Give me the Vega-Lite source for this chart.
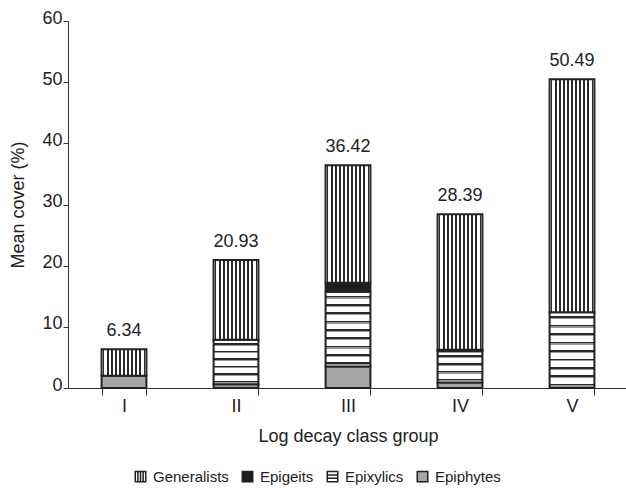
{
  "$schema": "https://vega.github.io/schema/vega-lite/v6.json",
  "autosize": "none",
  "padding": {"left": 68, "top": 21, "right": 0, "bottom": 102},
  "width": 560,
  "height": 367,
  "background": "white",
  "config": {
    "view": {"stroke": null},
    "font": "Liberation Sans",
    "axis": {"labelFont": "Liberation Sans", "titleFont": "Liberation Sans", "labelFontSize": 18, "titleFontSize": 18, "titleFontWeight": "normal", "labelColor": "#222", "titleColor": "#222", "domainColor": "#333", "tickColor": "#333", "grid": false},
    "legend": {"labelFont": "Liberation Sans", "labelFontSize": 15, "labelColor": "#222"}
  },
  "data": {"values": [
    {"group": "I", "series": "Epiphytes", "value": 2.0},
    {"group": "I", "series": "Generalists", "value": 4.34},
    {"group": "II", "series": "Epiphytes", "value": 0.6},
    {"group": "II", "series": "Epixylics", "value": 7.3},
    {"group": "II", "series": "Generalists", "value": 13.03},
    {"group": "III", "series": "Epiphytes", "value": 3.5},
    {"group": "III", "series": "Epixylics", "value": 12.25},
    {"group": "III", "series": "Epigeits", "value": 1.45},
    {"group": "III", "series": "Generalists", "value": 19.22},
    {"group": "IV", "series": "Epiphytes", "value": 0.9},
    {"group": "IV", "series": "Epixylics", "value": 5.1},
    {"group": "IV", "series": "Epigeits", "value": 0.25},
    {"group": "IV", "series": "Generalists", "value": 22.14},
    {"group": "V", "series": "Epixylics", "value": 12.4},
    {"group": "V", "series": "Generalists", "value": 38.09}
  ]},
  "transform": [
    {"calculate": "indexof(['Epiphytes','Epixylics','Epigeits','Generalists'], datum.series)", "as": "ord"}
  ],
  "encoding": {
    "x": {"field": "group", "type": "nominal", "sort": ["I", "II", "III", "IV", "V"],
      "scale": {"paddingInner": 0.6, "paddingOuter": 0.3},
      "axis": {"title": "Log decay class group", "labelAngle": 0, "tickBand": "extent", "tickSize": 7, "labelPadding": 2, "titlePadding": 12}}
  },
  "layer": [
    {
      "mark": {"type": "bar", "stroke": "#222", "strokeWidth": 2},
      "encoding": {
        "y": {"aggregate": "sum", "field": "value", "type": "quantitative", "stack": "zero",
          "scale": {"domain": [0, 60], "nice": false},
          "axis": {"title": "Mean cover (%)", "values": [0, 10, 20, 30, 40, 50, 60], "tickSize": 5, "labelPadding": 1, "labelOffset": -3, "titlePadding": 14}},
        "detail": {"field": "series"},
        "order": {"field": "ord"},
        "fill": {
          "condition": [
            {"test": "datum.series === 'Generalists'", "value": {"gradient": "linear", "x1": 0, "x2": 1, "y1": 0, "y2": 0, "stops": [
              {"offset": 0, "color": "#ffffff"}, {"offset": 0.0273, "color": "#ffffff"}, {"offset": 0.0273, "color": "#2a2a2a"}, {"offset": 0.0636, "color": "#2a2a2a"}, {"offset": 0.0636, "color": "#ffffff"},
              {"offset": 0.1182, "color": "#ffffff"}, {"offset": 0.1182, "color": "#2a2a2a"}, {"offset": 0.1545, "color": "#2a2a2a"}, {"offset": 0.1545, "color": "#ffffff"},
              {"offset": 0.2091, "color": "#ffffff"}, {"offset": 0.2091, "color": "#2a2a2a"}, {"offset": 0.2455, "color": "#2a2a2a"}, {"offset": 0.2455, "color": "#ffffff"},
              {"offset": 0.3, "color": "#ffffff"}, {"offset": 0.3, "color": "#2a2a2a"}, {"offset": 0.3364, "color": "#2a2a2a"}, {"offset": 0.3364, "color": "#ffffff"},
              {"offset": 0.3909, "color": "#ffffff"}, {"offset": 0.3909, "color": "#2a2a2a"}, {"offset": 0.4273, "color": "#2a2a2a"}, {"offset": 0.4273, "color": "#ffffff"},
              {"offset": 0.4818, "color": "#ffffff"}, {"offset": 0.4818, "color": "#2a2a2a"}, {"offset": 0.5182, "color": "#2a2a2a"}, {"offset": 0.5182, "color": "#ffffff"},
              {"offset": 0.5727, "color": "#ffffff"}, {"offset": 0.5727, "color": "#2a2a2a"}, {"offset": 0.6091, "color": "#2a2a2a"}, {"offset": 0.6091, "color": "#ffffff"},
              {"offset": 0.6636, "color": "#ffffff"}, {"offset": 0.6636, "color": "#2a2a2a"}, {"offset": 0.7, "color": "#2a2a2a"}, {"offset": 0.7, "color": "#ffffff"},
              {"offset": 0.7545, "color": "#ffffff"}, {"offset": 0.7545, "color": "#2a2a2a"}, {"offset": 0.7909, "color": "#2a2a2a"}, {"offset": 0.7909, "color": "#ffffff"},
              {"offset": 0.8455, "color": "#ffffff"}, {"offset": 0.8455, "color": "#2a2a2a"}, {"offset": 0.8818, "color": "#2a2a2a"}, {"offset": 0.8818, "color": "#ffffff"},
              {"offset": 0.9364, "color": "#ffffff"}, {"offset": 0.9364, "color": "#2a2a2a"}, {"offset": 0.9727, "color": "#2a2a2a"}, {"offset": 0.9727, "color": "#ffffff"},
              {"offset": 1, "color": "#ffffff"}]}},
            {"test": "datum.series === 'Epigeits'", "value": "#1e1e1e"},
            {"test": "datum.series === 'Epixylics' && datum.group === 'IV'", "value": {"gradient": "linear", "x1": 0, "x2": 0, "y1": 0, "y2": 1, "stops": [
              {"offset": 0, "color": "#ffffff"},
              {"offset": 0.125, "color": "#ffffff"}, {"offset": 0.125, "color": "#2a2a2a"}, {"offset": 0.175, "color": "#2a2a2a"}, {"offset": 0.175, "color": "#999999"}, {"offset": 0.2125, "color": "#999999"}, {"offset": 0.2125, "color": "#ffffff"},
              {"offset": 0.375, "color": "#ffffff"}, {"offset": 0.375, "color": "#2a2a2a"}, {"offset": 0.425, "color": "#2a2a2a"}, {"offset": 0.425, "color": "#999999"}, {"offset": 0.4625, "color": "#999999"}, {"offset": 0.4625, "color": "#ffffff"},
              {"offset": 0.625, "color": "#ffffff"}, {"offset": 0.625, "color": "#2a2a2a"}, {"offset": 0.675, "color": "#2a2a2a"}, {"offset": 0.675, "color": "#999999"}, {"offset": 0.7125, "color": "#999999"}, {"offset": 0.7125, "color": "#ffffff"},
              {"offset": 0.875, "color": "#ffffff"}, {"offset": 0.875, "color": "#2a2a2a"}, {"offset": 0.925, "color": "#2a2a2a"}, {"offset": 0.925, "color": "#999999"}, {"offset": 0.9625, "color": "#999999"}, {"offset": 0.9625, "color": "#ffffff"},
              {"offset": 1, "color": "#ffffff"}]}},
            {"test": "datum.series === 'Epixylics' && datum.group === 'II'", "value": {"gradient": "linear", "x1": 0, "x2": 0, "y1": 0, "y2": 1, "stops": [
              {"offset": 0, "color": "#ffffff"},
              {"offset": 0.0833, "color": "#ffffff"}, {"offset": 0.0833, "color": "#2a2a2a"}, {"offset": 0.1167, "color": "#2a2a2a"}, {"offset": 0.1167, "color": "#999999"}, {"offset": 0.1417, "color": "#999999"}, {"offset": 0.1417, "color": "#ffffff"},
              {"offset": 0.25, "color": "#ffffff"}, {"offset": 0.25, "color": "#2a2a2a"}, {"offset": 0.2833, "color": "#2a2a2a"}, {"offset": 0.2833, "color": "#999999"}, {"offset": 0.3083, "color": "#999999"}, {"offset": 0.3083, "color": "#ffffff"},
              {"offset": 0.4167, "color": "#ffffff"}, {"offset": 0.4167, "color": "#2a2a2a"}, {"offset": 0.45, "color": "#2a2a2a"}, {"offset": 0.45, "color": "#999999"}, {"offset": 0.475, "color": "#999999"}, {"offset": 0.475, "color": "#ffffff"},
              {"offset": 0.5833, "color": "#ffffff"}, {"offset": 0.5833, "color": "#2a2a2a"}, {"offset": 0.6167, "color": "#2a2a2a"}, {"offset": 0.6167, "color": "#999999"}, {"offset": 0.6417, "color": "#999999"}, {"offset": 0.6417, "color": "#ffffff"},
              {"offset": 0.75, "color": "#ffffff"}, {"offset": 0.75, "color": "#2a2a2a"}, {"offset": 0.7833, "color": "#2a2a2a"}, {"offset": 0.7833, "color": "#999999"}, {"offset": 0.8083, "color": "#999999"}, {"offset": 0.8083, "color": "#ffffff"},
              {"offset": 0.9167, "color": "#ffffff"}, {"offset": 0.9167, "color": "#2a2a2a"}, {"offset": 0.95, "color": "#2a2a2a"}, {"offset": 0.95, "color": "#999999"}, {"offset": 0.975, "color": "#999999"}, {"offset": 0.975, "color": "#ffffff"},
              {"offset": 1, "color": "#ffffff"}]}},
            {"test": "datum.series === 'Epixylics'", "value": {"gradient": "linear", "x1": 0, "x2": 0, "y1": 0, "y2": 1, "stops": [
              {"offset": 0, "color": "#ffffff"},
              {"offset": 0.0556, "color": "#ffffff"}, {"offset": 0.0556, "color": "#2a2a2a"}, {"offset": 0.0778, "color": "#2a2a2a"}, {"offset": 0.0778, "color": "#999999"}, {"offset": 0.0944, "color": "#999999"}, {"offset": 0.0944, "color": "#ffffff"},
              {"offset": 0.1667, "color": "#ffffff"}, {"offset": 0.1667, "color": "#2a2a2a"}, {"offset": 0.1889, "color": "#2a2a2a"}, {"offset": 0.1889, "color": "#999999"}, {"offset": 0.2056, "color": "#999999"}, {"offset": 0.2056, "color": "#ffffff"},
              {"offset": 0.2778, "color": "#ffffff"}, {"offset": 0.2778, "color": "#2a2a2a"}, {"offset": 0.3, "color": "#2a2a2a"}, {"offset": 0.3, "color": "#999999"}, {"offset": 0.3167, "color": "#999999"}, {"offset": 0.3167, "color": "#ffffff"},
              {"offset": 0.3889, "color": "#ffffff"}, {"offset": 0.3889, "color": "#2a2a2a"}, {"offset": 0.4111, "color": "#2a2a2a"}, {"offset": 0.4111, "color": "#999999"}, {"offset": 0.4278, "color": "#999999"}, {"offset": 0.4278, "color": "#ffffff"},
              {"offset": 0.5, "color": "#ffffff"}, {"offset": 0.5, "color": "#2a2a2a"}, {"offset": 0.5222, "color": "#2a2a2a"}, {"offset": 0.5222, "color": "#999999"}, {"offset": 0.5389, "color": "#999999"}, {"offset": 0.5389, "color": "#ffffff"},
              {"offset": 0.6111, "color": "#ffffff"}, {"offset": 0.6111, "color": "#2a2a2a"}, {"offset": 0.6333, "color": "#2a2a2a"}, {"offset": 0.6333, "color": "#999999"}, {"offset": 0.65, "color": "#999999"}, {"offset": 0.65, "color": "#ffffff"},
              {"offset": 0.7222, "color": "#ffffff"}, {"offset": 0.7222, "color": "#2a2a2a"}, {"offset": 0.7444, "color": "#2a2a2a"}, {"offset": 0.7444, "color": "#999999"}, {"offset": 0.7611, "color": "#999999"}, {"offset": 0.7611, "color": "#ffffff"},
              {"offset": 0.8333, "color": "#ffffff"}, {"offset": 0.8333, "color": "#2a2a2a"}, {"offset": 0.8556, "color": "#2a2a2a"}, {"offset": 0.8556, "color": "#999999"}, {"offset": 0.8722, "color": "#999999"}, {"offset": 0.8722, "color": "#ffffff"},
              {"offset": 0.9444, "color": "#ffffff"}, {"offset": 0.9444, "color": "#2a2a2a"}, {"offset": 0.9667, "color": "#2a2a2a"}, {"offset": 0.9667, "color": "#999999"}, {"offset": 0.9833, "color": "#999999"}, {"offset": 0.9833, "color": "#ffffff"},
              {"offset": 1, "color": "#ffffff"}]}}
          ],
          "value": "#a6a6a6"
        }
      }
    },
    {
      "transform": [{"aggregate": [{"op": "sum", "field": "value", "as": "total"}], "groupby": ["group"]}],
      "mark": {"type": "text", "baseline": "middle", "dy": -18, "fontSize": 18, "color": "#222", "font": "Liberation Sans"},
      "encoding": {
        "y": {"field": "total", "type": "quantitative"},
        "text": {"field": "total", "type": "quantitative", "format": ".2f"}
      }
    },
    {
      "transform": [{"filter": "datum.value < 0"}],
      "mark": {"type": "point", "filled": true, "size": 110, "opacity": 1, "strokeWidth": 1.5},
      "encoding": {
        "y": {"field": "value", "type": "quantitative"},
        "shape": {"field": "series", "type": "nominal",
          "scale": {"domain": ["Generalists", "Epigeits", "Epixylics", "Epiphytes"],
            "range": ["M-1,-1H1V1H-1Z M-0.5,-1V1 M0,-1V1 M0.5,-1V1", "square", "M-1,-1H1V1H-1Z M-1,-0.33H1 M-1,0.33H1", "square"]},
          "legend": {"title": null, "orient": "none", "direction": "horizontal", "legendX": 65, "legendY": 448, "symbolSize": 110, "symbolStrokeWidth": 1.5, "symbolOpacity": 1, "columnPadding": 10, "labelOffset": 5}},
        "fill": {"field": "series", "type": "nominal",
          "scale": {"domain": ["Generalists", "Epigeits", "Epixylics", "Epiphytes"],
            "range": ["#ffffff", "#1e1e1e", "#ffffff", "#a6a6a6"]},
          "legend": {"title": null, "orient": "none", "direction": "horizontal", "legendX": 65, "legendY": 448, "symbolSize": 110, "symbolStrokeWidth": 1.5, "symbolOpacity": 1, "columnPadding": 10, "labelOffset": 5}},
        "stroke": {"field": "series", "type": "nominal",
          "scale": {"domain": ["Generalists", "Epigeits", "Epixylics", "Epiphytes"],
            "range": ["#222222", "#222222", "#222222", "#222222"]},
          "legend": {"title": null, "orient": "none", "direction": "horizontal", "legendX": 65, "legendY": 448, "symbolSize": 110, "symbolStrokeWidth": 1.5, "symbolOpacity": 1, "columnPadding": 10, "labelOffset": 5}}
      }
    }
  ]
}
